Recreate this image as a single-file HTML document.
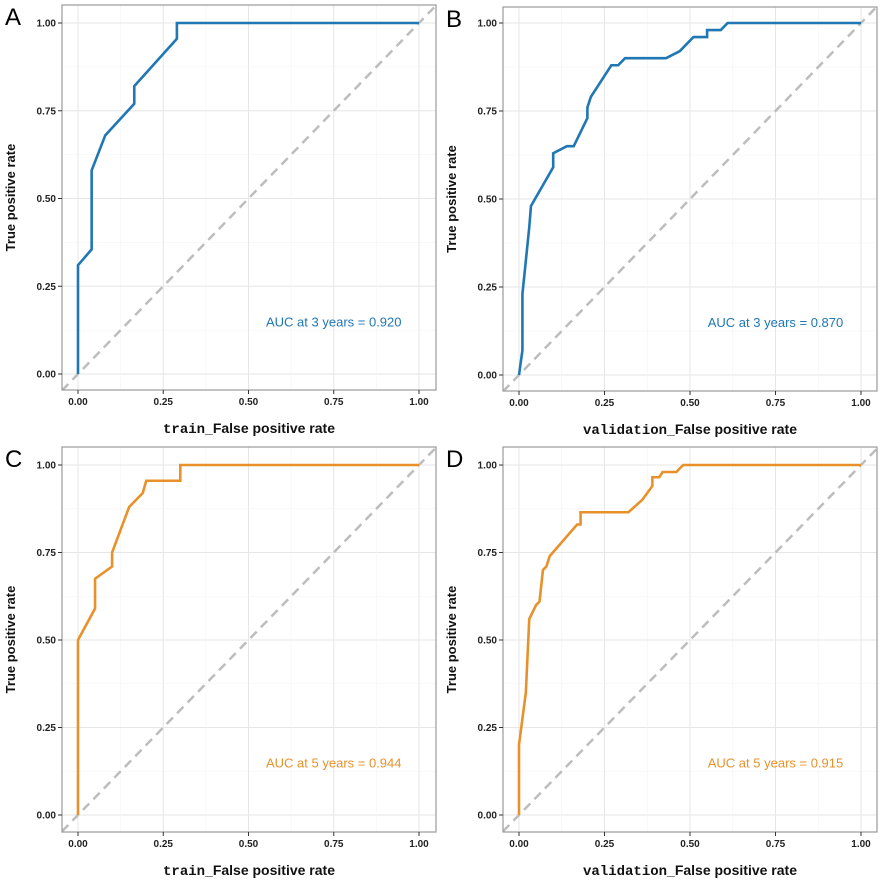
<!DOCTYPE html>
<html><head><meta charset="utf-8"><style>body{margin:0;background:#fff}svg{display:block}</style></head>
<body>
<svg id="s" width="885" height="881" xmlns="http://www.w3.org/2000/svg" font-family="Liberation Sans, sans-serif"></svg>
<script>
const P=[
 {L:'A',x0:78,x1:419,y0:374,y1:23,bx:[62,436],by:[5,390],c:'#1f77b4',t:'AUC at 3 years = 0.920',xl:'train',
  d:[[0,0],[0,0.31],[0.04,0.355],[0.04,0.58],[0.08,0.68],[0.165,0.77],[0.165,0.82],[0.29,0.955],[0.29,1],[1,1]]},
 {L:'B',x0:519,x1:861,y0:375,y1:23,bx:[503,877],by:[7,391],c:'#1f77b4',t:'AUC at 3 years = 0.870',xl:'validation',
  d:[[0,0],[0.01,0.07],[0.01,0.23],[0.03,0.42],[0.035,0.48],[0.1,0.59],[0.1,0.63],[0.14,0.65],[0.16,0.65],[0.2,0.73],[0.2,0.76],[0.21,0.79],[0.27,0.88],[0.29,0.88],[0.31,0.9],[0.43,0.9],[0.47,0.92],[0.51,0.96],[0.55,0.96],[0.55,0.98],[0.59,0.98],[0.61,1],[1,1]]},
 {L:'C',x0:78,x1:419,y0:815,y1:465,bx:[62,436],by:[447,832],c:'#e8912b',t:'AUC at 5 years = 0.944',xl:'train',
  d:[[0,0],[0,0.5],[0.05,0.59],[0.05,0.675],[0.1,0.71],[0.1,0.75],[0.15,0.88],[0.19,0.92],[0.2,0.955],[0.3,0.955],[0.3,1],[1,1]]},
 {L:'D',x0:519,x1:861,y0:815,y1:465,bx:[503,877],by:[447,832],c:'#e8912b',t:'AUC at 5 years = 0.915',xl:'validation',
  d:[[0,0],[0,0.2],[0.02,0.35],[0.03,0.56],[0.05,0.6],[0.06,0.61],[0.07,0.7],[0.08,0.71],[0.09,0.74],[0.17,0.83],[0.18,0.83],[0.18,0.865],[0.32,0.865],[0.36,0.9],[0.39,0.94],[0.39,0.965],[0.41,0.965],[0.42,0.98],[0.46,0.98],[0.48,1],[1,1]]}
];
let h='';
for(const p of P){
 const X=v=>p.x0+(p.x1-p.x0)*v, Y=v=>p.y0+(p.y1-p.y0)*v;
 const [bl,br]=p.bx,[bt,bb]=p.by;
 h+=`<defs><clipPath id="c${p.L}"><rect x="${bl}" y="${bt}" width="${br-bl}" height="${bb-bt}"/></clipPath></defs>`;
 for(let i=0;i<8;i++){const v=i*0.125+0.0; const maj=i%2==0;
  for(const vv of [v]){}
 }
 for(let k=0;k<=8;k++){const v=k/8;const col=k%2?'#f2f2f2':'#e6e6e6';const w=k%2?0.6:1;
  h+=`<line x1="${X(v)}" y1="${bt}" x2="${X(v)}" y2="${bb}" stroke="${col}" stroke-width="${w}"/>`;
  h+=`<line x1="${bl}" y1="${Y(v)}" x2="${br}" y2="${Y(v)}" stroke="${col}" stroke-width="${w}"/>`;}
 const ex=(bl-p.x0)/(p.x1-p.x0), ex2=(br-p.x0)/(p.x1-p.x0);
 h+=`<line clip-path="url(#c${p.L})" x1="${X(ex)}" y1="${Y(ex)}" x2="${X(ex2)}" y2="${Y(ex2)}" stroke="#bdbdbd" stroke-width="2.5" stroke-dasharray="9,6"/>`;
 h+=`<polyline fill="none" stroke="${p.c}" stroke-width="2.6" points="${p.d.map(q=>X(q[0])+','+Y(q[1])).join(' ')}"/>`;
 h+=`<rect x="${bl}" y="${bt}" width="${br-bl}" height="${bb-bt}" fill="none" stroke="#9a9a9a" stroke-width="1.2"/>`;
 for(let k=0;k<=4;k++){const v=k/4,s=v.toFixed(2);
  h+=`<line x1="${X(v)}" y1="${bb}" x2="${X(v)}" y2="${bb+4}" stroke="#333"/><text x="${X(v)}" y="${bb+15}" font-size="10" font-weight="bold" fill="#222" text-anchor="middle">${s}</text>`;
  h+=`<line x1="${bl-4}" y1="${Y(v)}" x2="${bl}" y2="${Y(v)}" stroke="#333"/><text x="${bl-6}" y="${Y(v)+3.5}" font-size="10" font-weight="bold" fill="#222" text-anchor="end">${s}</text>`;}
 h+=`<text x="${X(0.75)}" y="${Y(0.15)+5}" font-size="13" fill="${p.c}" text-anchor="middle">${p.t}</text>`;
 const cx=(bl+br)/2;
 h+=`<text x="${cx}" y="${bb+43}" font-size="14" font-weight="bold" fill="#111" text-anchor="middle"><tspan font-family="Liberation Mono, monospace">${p.xl}</tspan>_False positive rate</text>`;
 const cy=(bt+bb)/2, tx=bl-47;
 h+=`<text transform="translate(${tx},${cy}) rotate(-90)" font-size="13" font-weight="bold" fill="#111" text-anchor="middle">True positive rate</text>`;
 h+=`<text x="${bl-57}" y="${bt+20}" font-size="24" fill="#000">${p.L}</text>`;
}
document.getElementById('s').innerHTML=h;
</script>
</body></html>
